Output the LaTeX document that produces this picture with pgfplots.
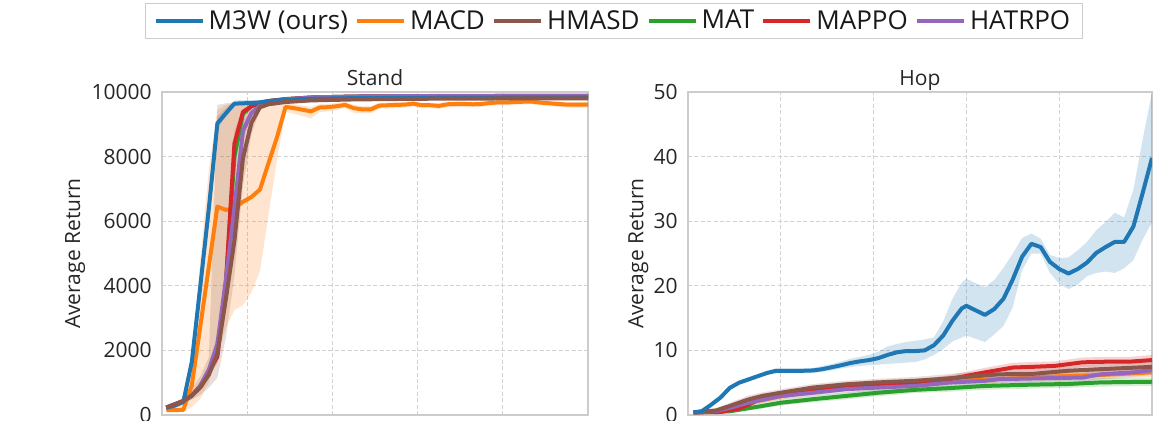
\documentclass[border=0pt]{standalone}
\usepackage{pgfplots}
\pgfplotsset{compat=1.18}
\usepackage{pgfplotstable}
\usepgfplotslibrary{fillbetween}
\usepackage{fontspec}
\setmainfont{Open Sans}

\definecolor{cb}{HTML}{1F77B4}
\definecolor{co}{HTML}{FF7F0E}
\definecolor{cg}{HTML}{2CA02C}
\definecolor{cr}{HTML}{D62728}
\definecolor{cp}{HTML}{9467BD}
\definecolor{ch}{HTML}{8C564B}

% ---------------- Stand ----------------
\pgfplotstableread{
x y lo hi
0.1 220 190 250
0.3 290 260 320
0.5 400 360 440
0.7 1650 1400 1900
0.9 4000 3700 4300
1.1 6400 6100 6700
1.3 9030 8850 9250
1.5 9340 9250 9500
1.7 9640 9580 9740
1.9 9650 9590 9750
2.1 9660 9600 9750
2.3 9680 9620 9750
2.5 9720 9680 9770
2.9 9760 9730 9790
3.5 9790 9770 9810
4.5 9810 9790 9830
6.0 9820 9800 9840
8.0 9830 9810 9850
10.0 9830 9810 9850
}\StandB
\pgfplotstableread{
x y lo hi
0.1 150 100 200
0.3 150 100 250
0.5 160 100 350
0.7 920 250 1600
0.9 2750 500 4800
1.1 4600 1000 7600
1.3 6450 1800 9450
1.5 6350 2700 9600
1.7 6400 3250 9650
1.9 6600 3400 9650
2.1 6750 3800 9650
2.3 6980 4450 9650
2.5 7800 6200 9650
2.7 8600 7900 9650
2.9 9540 9380 9650
3.1 9500 9330 9620
3.3 9450 9250 9580
3.5 9400 9180 9540
3.7 9520 9380 9620
3.9 9530 9400 9630
4.1 9560 9440 9660
4.3 9600 9500 9690
4.5 9500 9360 9600
4.7 9460 9340 9560
4.9 9460 9340 9560
5.1 9580 9480 9660
5.3 9590 9490 9670
5.5 9600 9500 9680
5.7 9610 9520 9690
5.9 9640 9550 9710
6.1 9590 9500 9660
6.3 9590 9500 9660
6.5 9570 9480 9650
6.7 9620 9530 9690
6.9 9630 9540 9700
7.1 9630 9540 9700
7.3 9620 9530 9690
7.5 9630 9540 9700
7.7 9660 9580 9730
7.9 9680 9600 9740
8.1 9680 9600 9740
8.3 9690 9610 9750
8.5 9700 9620 9760
8.7 9700 9620 9760
8.9 9670 9590 9730
9.1 9650 9560 9710
9.3 9630 9540 9700
9.5 9610 9520 9690
10.0 9610 9520 9690
}\StandO
\pgfplotstableread{
x y lo hi
0.1 230 190 270
0.3 330 290 380
0.5 440 390 520
0.7 600 470 800
0.9 850 620 1200
1.1 1250 850 1800
1.3 1900 1150 9600
1.5 3600 2400 9650
1.7 5400 4300 9680
1.9 7950 7100 9700
2.1 9050 8700 9720
2.3 9530 9440 9660
2.5 9620 9570 9690
2.9 9690 9660 9730
3.5 9740 9710 9770
4.5 9770 9740 9800
6.0 9790 9760 9820
8.0 9800 9770 9830
10.0 9800 9770 9830
}\StandH
\pgfplotstableread{
x y lo hi
0.1 230 200 260
0.3 330 300 360
0.5 430 390 470
0.7 600 540 660
0.9 900 800 1000
1.1 1380 1200 1550
1.3 1950 1700 2300
1.5 4050 3600 4500
1.7 8000 7500 8500
1.9 9330 9200 9450
2.1 9560 9500 9620
2.3 9650 9600 9700
2.5 9720 9680 9760
2.9 9780 9750 9810
3.5 9830 9800 9850
4.5 9860 9840 9880
6.0 9870 9850 9890
8.0 9875 9855 9895
10.0 9875 9855 9895
}\StandG
\pgfplotstableread{
x y lo hi
0.1 230 200 260
0.3 330 300 360
0.5 430 390 470
0.7 600 540 660
0.9 900 800 1000
1.1 1350 1200 1500
1.3 1800 1600 2100
1.5 4100 3700 4500
1.7 8400 8000 8800
1.9 9380 9280 9480
2.1 9560 9500 9620
2.3 9650 9600 9700
2.5 9720 9680 9760
2.9 9780 9750 9810
3.5 9830 9800 9850
4.5 9860 9840 9880
6.0 9870 9850 9890
8.0 9875 9855 9895
10.0 9875 9855 9895
}\StandR
\pgfplotstableread{
x y lo hi
0.1 230 200 260
0.3 330 300 360
0.5 430 390 470
0.7 600 540 660
0.9 900 800 1000
1.1 1400 1250 1550
1.3 2200 1950 2500
1.5 4200 3800 4600
1.7 6400 5900 6900
1.9 8800 8500 9100
2.1 9350 9250 9450
2.3 9570 9510 9630
2.5 9680 9640 9720
2.9 9770 9740 9800
3.5 9830 9800 9850
4.5 9860 9840 9880
6.0 9875 9855 9895
8.0 9885 9865 9905
10.0 9885 9865 9905
}\StandP

% ---------------- Hop ----------------
\pgfplotstableread{
x y lo hi
0.12 0.4 0.2 0.6
0.3 0.6 0.4 0.8
0.5 1.6 1.3 1.9
0.7 2.7 2.4 3.0
0.9 4.2 3.9 4.5
1.1 5.0 4.7 5.3
1.3 5.5 5.2 5.8
1.5 6.0 5.7 6.3
1.7 6.5 6.2 6.8
1.9 6.85 6.5 7.2
2.1 6.85 6.5 7.2
2.5 6.85 6.5 7.2
2.7 6.9 6.5 7.3
2.9 7.1 6.7 7.6
3.1 7.4 6.9 7.9
3.3 7.7 7.2 8.3
3.5 8.05 7.4 8.7
3.7 8.3 7.6 9.0
3.9 8.5 7.7 9.3
4.1 8.8 7.8 9.8
4.3 9.3 7.9 10.6
4.5 9.7 8.0 11.0
4.7 9.9 8.1 11.3
4.9 9.9 8.2 11.5
5.1 10.0 8.6 11.7
5.3 10.8 9.3 12.0
5.5 12.3 10.2 14.5
5.7 14.6 11.4 18.0
5.9 16.5 12.0 20.5
6.0 16.9 12.3 21.1
6.2 16.2 11.8 20.4
6.4 15.5 11.3 19.8
6.6 16.4 12.5 20.9
6.8 18.0 13.8 22.8
7.0 21.0 16.7 25.0
7.2 24.5 22.4 27.4
7.4 26.5 25.0 28.1
7.6 26.0 25.0 27.3
7.8 23.7 22.0 24.8
8.0 22.6 20.3 24.3
8.2 21.9 19.5 24.4
8.4 22.6 20.2 25.5
8.6 23.6 21.5 26.8
8.8 25.1 22.0 28.6
9.0 26.0 22.2 29.9
9.2 26.8 22.0 31.3
9.4 26.8 22.7 30.6
9.6 29.2 24.0 34.9
9.8 34.4 27.2 42.7
10.0 39.8 29.8 50.0
}\HopB
\pgfplotstableread{
x y lo hi
0.12 0.4 0.2 0.6
0.7 0.6 0.4 0.8
1.0 1.2 0.8 1.6
1.3 1.9 1.4 2.4
2.0 2.9 2.4 3.4
2.7 3.6 3.1 4.1
3.4 4.2 3.7 4.7
4.1 4.6 4.1 5.1
4.9 4.9 4.4 5.4
5.6 5.3 4.8 5.8
6.7 5.55 5.0 6.1
7.4 5.8 5.2 6.4
8.2 6.05 5.4 6.7
8.9 6.2 5.5 6.9
10.0 6.6 5.9 7.3
}\HopO
\pgfplotstableread{
x y lo hi
0.12 0.4 0.2 0.6
0.6 0.7 0.4 1.0
0.9 1.4 1.0 1.9
1.3 2.4 1.9 3.0
1.6 2.95 2.4 3.5
2.0 3.45 2.9 4.0
2.7 4.25 3.7 4.8
3.4 4.75 4.2 5.3
4.1 5.05 4.5 5.6
4.9 5.3 4.7 5.9
5.4 5.55 4.9 6.2
6.0 5.9 5.2 6.6
6.7 6.3 5.6 7.0
7.4 6.35 5.6 7.1
8.2 6.85 6.1 7.6
8.9 7.1 6.3 7.9
10.0 7.45 6.6 8.3
}\HopH
\pgfplotstableread{
x y lo hi
0.12 0.4 0.2 0.6
0.9 0.57 0.4 0.8
1.6 1.4 1.0 1.8
2.0 1.9 1.5 2.4
2.7 2.45 2.0 3.0
3.4 2.95 2.4 3.5
4.1 3.45 2.9 4.0
4.9 3.9 3.4 4.4
5.6 4.15 3.6 4.7
6.4 4.5 3.9 5.1
7.4 4.7 4.1 5.3
8.2 4.8 4.2 5.4
8.9 5.05 4.4 5.7
10.0 5.15 4.5 5.8
}\HopG
\pgfplotstableread{
x y lo hi
0.12 0.4 0.2 0.6
0.7 0.47 0.3 0.7
1.1 1.0 0.7 1.3
1.3 1.6 1.2 2.0
1.5 2.3 1.8 2.8
2.0 3.1 2.6 3.6
2.7 3.85 3.3 4.4
3.4 4.35 3.8 4.9
4.1 4.65 4.1 5.2
4.9 4.95 4.4 5.5
5.6 5.5 4.9 6.1
6.0 6.05 5.4 6.7
6.4 6.6 5.9 7.3
7.0 7.35 6.6 8.1
7.4 7.45 6.7 8.2
7.9 7.6 6.9 8.3
8.5 8.15 7.4 8.9
9.0 8.25 7.5 9.0
9.5 8.25 7.5 9.0
10.0 8.5 7.7 9.3
}\HopR
\pgfplotstableread{
x y lo hi
0.12 0.4 0.2 0.6
0.6 0.6 0.4 0.8
0.9 1.1 0.8 1.5
1.3 1.9 1.4 2.4
2.0 2.95 2.4 3.5
2.7 3.45 2.9 4.0
3.4 4.0 3.4 4.6
4.1 4.25 3.7 4.8
4.9 4.5 3.9 5.1
5.6 5.0 4.4 5.6
6.4 5.3 4.7 5.9
6.7 5.55 4.9 6.2
7.4 5.65 5.0 6.3
8.5 5.8 5.1 6.5
8.9 6.3 5.6 7.0
9.6 6.6 5.9 7.3
10.0 6.95 6.2 7.7
}\HopP

\newcommand{\band}[3]{%
  \addplot[draw=none, forget plot, name path=#3u] table[x=x,y=hi]{#1};
  \addplot[draw=none, forget plot, name path=#3l] table[x=x,y=lo]{#1};
  \addplot[fill=#2, fill opacity=0.2, draw=none, forget plot] fill between[of=#3u and #3l];
}
\newcommand{\curve}[2]{%
  \addplot[#2, line width=2pt, line join=round, forget plot] table[x=x,y=y]{#1};
}

\pgfplotsset{
  myax/.style={
    scale only axis, height=161.5pt,
    xmin=0, xmax=10, ymin=0,
    xtick={0,2,...,10}, xticklabels={},
    axis line style={gray!40, line width=0.6pt},
    major tick length=0pt,
    grid=major,
    grid style={gray!35, dash pattern=on 2pt off 1.2pt, line width=0.45pt},
    tick label style={font=\fontsize{10.5}{12}\selectfont, text=black!85},
    yticklabel style={anchor=east, inner sep=0pt, xshift=-5pt},
    /pgf/number format/assume math mode=true,
    /pgf/number format/1000 sep={},
    scaled y ticks=false,
    label style={font=\fontsize{10.5}{12}\selectfont, text=black!85},
    every axis title shift=0pt,
    title style={font=\fontsize{10.5}{12}\selectfont, text=black!85, at={(0.5,1)}, anchor=base, yshift=3.5pt},
    ylabel={Average Return},
  }
}

\begin{document}
\begin{tikzpicture}
\begin{axis}[myax,
  at={(81pt,2.5pt)}, anchor=south west, width=213pt,
  ymax=10000, ytick={0,2000,...,10000},
  title={Stand},
  ylabel style={at={(axis description cs:-0.2042,0.5)}, anchor=center},
  legend columns=6,
  legend style={at={(1.061,1.2755)}, anchor=north,
    draw=gray!40, line width=0.6pt,
    font=\fontsize{13}{14}\selectfont, text=black!90,
    inner xsep=4pt, inner ysep=3.3pt,
    nodes={inner xsep=2pt, inner ysep=0pt},
    /tikz/every even column/.append style={column sep=1.6pt}},
  legend image code/.code={\draw[#1, line width=2pt] (0pt,0pt) -- (23.5pt,0pt);},
]
\band{\StandO}{co}{so}
\band{\StandG}{cg}{sg}
\band{\StandR}{cr}{sr}
\band{\StandP}{cp}{sp}
\band{\StandB}{cb}{sb}
\band{\StandH}{ch}{sh}
\curve{\StandO}{co}
\curve{\StandG}{cg}
\curve{\StandR}{cr}
\curve{\StandP}{cp}
\curve{\StandB}{cb}
\curve{\StandH}{ch}
\addlegendimage{cb}\addlegendentry{M3W (ours)}
\addlegendimage{co}\addlegendentry{MACD}
\addlegendimage{ch}\addlegendentry{HMASD}
\addlegendimage{cg}\addlegendentry{MAT}
\addlegendimage{cr}\addlegendentry{MAPPO}
\addlegendimage{cp}\addlegendentry{HATRPO}
\end{axis}

\begin{axis}[myax,
  at={(344pt,2.5pt)}, anchor=south west, width=232pt,
  ymax=50, ytick={0,10,...,50},
  title={Hop},
  ylabel style={at={(axis description cs:-0.1067,0.5)}, anchor=center},
]
\band{\HopO}{co}{ho}
\band{\HopG}{cg}{hg}
\band{\HopR}{cr}{hr}
\band{\HopP}{cp}{hp}
\band{\HopH}{ch}{hh}
\band{\HopB}{cb}{hb}
\curve{\HopO}{co}
\curve{\HopG}{cg}
\curve{\HopR}{cr}
\curve{\HopP}{cp}
\curve{\HopH}{ch}
\curve{\HopB}{cb}
\end{axis}
\pgfresetboundingbox
\path[use as bounding box] (0,0) rectangle (579pt,210pt);
\end{tikzpicture}
\end{document}
